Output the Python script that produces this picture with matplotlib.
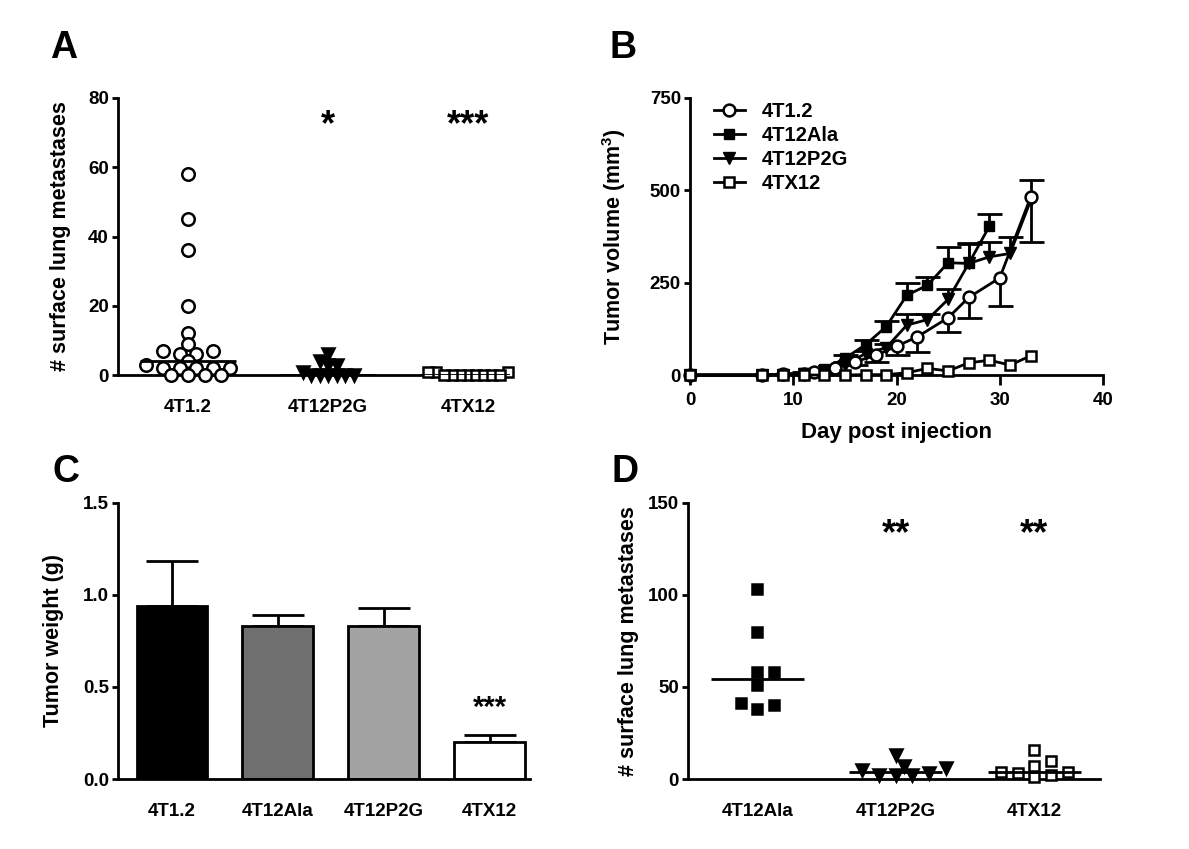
import numpy as np
import matplotlib.pyplot as plt

plt.rcParams['font.family'] = ['Liberation Sans', 'DejaVu Sans']
plt.rcParams['font.weight'] = 'bold'
plt.rcParams['axes.labelweight'] = 'bold'
plt.rcParams['mathtext.fontset'] = 'custom'
plt.rcParams['mathtext.rm'] = 'Liberation Sans:bold'
plt.rcParams['mathtext.bf'] = 'Liberation Sans:bold'

# A: lung metastases, 3 lines
a_groups = ['4T1.2', '4T12P2G', '4TX12']
a_4t12 = [58, 45, 36, 20, 12, 9, 7, 7, 6, 6, 4, 3, 2, 2, 2, 2, 2, 0, 0, 0, 0]
a_p2g = [6, 4, 3, 3, 1, 0, 0, 0, 0, 0, 0]
a_tx12 = [1, 1, 1, 0, 0, 0, 0, 0, 0, 0, 0]
a_stars = ['', '*', '***']

# B: tumour growth
b_days_4t12 = [0, 7, 9, 11, 12, 14, 16, 18, 20, 22, 25, 27, 30, 33]
b_vol_4t12 = [0, 0, 2, 4, 8, 18, 36, 53, 78, 103, 155, 210, 263, 482]
b_err_4t12 = [0, 0, 1, 2, 3, 6, 10, 17, 24, 40, 38, 55, 77, 122]   # shown below

b_days_ala = [0, 7, 9, 11, 13, 15, 17, 19, 21, 23, 25, 27, 29]
b_vol_ala = [0, 0, 2, 6, 16, 45, 82, 131, 216, 243, 304, 302, 403]
b_err_ala = [0, 0, 1, 2, 4, 8, 12, 15, 34, 21, 43, 54, 32]        # shown above

b_days_p2g = [0, 7, 9, 11, 13, 15, 17, 19, 21, 23, 25, 27, 29, 31, 33]
b_vol_p2g = [0, 0, 1, 3, 10, 28, 58, 74, 135, 150, 205, 302, 320, 329, 473]
b_err_p2g = [0, 0, 1, 1, 3, 6, 8, 10, 30, 15, 27, 56, 40, 45, 54]  # shown above

b_days_tx12 = [0, 7, 9, 11, 13, 15, 17, 19, 21, 23, 25, 27, 29, 31, 33]
b_vol_tx12 = [0, 0, 0, 0, 0, 0, 1, 1, 6, 18, 11, 33, 40, 27, 52]

# C: tumour weight
c_groups = ['4T1.2', '4T12Ala', '4T12P2G', '4TX12']
c_weight = [0.94, 0.83, 0.83, 0.20]
c_err = [0.245, 0.06, 0.10, 0.04]
c_colors = ['#000000', '#6f6f6f', '#a3a3a3', '#ffffff']

# D: lung metastases, 3 other lines
d_groups = ['4T12Ala', '4T12P2G', '4TX12']
d_ala = [103, 80, 58, 58, 51, 41, 40, 38]
d_p2g = [13, 7, 6, 5, 3, 2, 2, 2]
d_tx12 = [16, 10, 7, 4, 4, 3, 2, 1]
d_stars = ['', '**', '**']


def swarm(vals, dx_px, dy_px, ppu_x, ppu_y):
    # simple beeswarm: offsets in category units
    vals = np.asarray(vals, float)
    offs = np.zeros(len(vals))
    placed = []
    step = dx_px / 4
    for i in np.argsort(vals, kind='stable'):
        y = vals[i] * ppu_y
        k = 0
        pos = None
        while pos is None:
            for c in ([0.0] if k == 0 else [k * step, -k * step]):
                if all(((c - px) / dx_px) ** 2 + ((y - py) / dy_px) ** 2 >= 0.98
                       for px, py in placed):
                    pos = c
                    break
            k += 1
        placed.append((pos, y))
        offs[i] = pos / ppu_x
    return offs


def style_axes(ax):
    for s in ['top', 'right']:
        ax.spines[s].set_visible(False)
    for s in ['left', 'bottom']:
        ax.spines[s].set_linewidth(2)
    ax.tick_params(axis='y', direction='out', length=4.5, width=2, labelsize=13.5, pad=2)
    ax.tick_params(axis='x', labelsize=13.5)


fig = plt.figure(figsize=(11.89, 8.49), dpi=100)
W, H = 1189, 849


def add_ax(l, r, t, b):
    return fig.add_axes([l / W, 1 - b / H, (r - l) / W, (b - t) / H])


axA = add_ax(118, 510, 98, 375)
axB = add_ax(690, 1103, 98, 375)
axC = add_ax(118, 530, 502.7, 779)
axD = add_ax(688, 1100, 502.7, 779)

# ---- A ----
style_axes(axA)
axA.set_xlim(-0.5, 2.3)
axA.set_ylim(0, 80)
axA.set_yticks([0, 20, 40, 60, 80])
ppx = 392 / 2.8
ppy = 277 / 80
a_sets = [
    (a_4t12, 'o', 'white', 9, 16.7, 8),
    (a_p2g, 'v', 'black', 8, 8.5, 9),
    (a_tx12, 's', 'white', 7.5, 8, 8),
]
for i, (vals, mk, fc, ms, dx, dy) in enumerate(a_sets):
    off = swarm(vals, dx, dy, ppx, ppy)
    axA.plot(i + off, vals, linestyle='none', marker=mk, ms=ms, mfc=fc, mec='black',
             mew=1.8, clip_on=False, zorder=3)
    axA.hlines(np.median(vals), i - 0.34, i + 0.34, color='black', lw=2, zorder=4)
    axA.text(i, 69.2, a_stars[i], ha='center', va='baseline', fontsize=26, fontweight='bold')
axA.set_xticks(range(3))
axA.set_xticklabels(a_groups)
axA.tick_params(axis='x', length=0, pad=17)
axA.set_ylabel('# surface lung metastases', fontsize=15.5)
axA.yaxis.set_label_coords(-0.12, 0.5)

# ---- B ----
style_axes(axB)
axB.set_xlim(0, 40)
axB.set_ylim(0, 750)
axB.set_xticks([0, 10, 20, 30, 40])
axB.set_yticks([0, 250, 500, 750])
axB.tick_params(axis='x', direction='out', length=7, width=2, labelsize=13.5, pad=5)


def one_sided(ax, x, y, err, up):
    err = np.asarray(err, float)
    z = np.zeros_like(err)
    eb = ax.errorbar(x, y, yerr=[z, err] if up else [err, z], fmt='none', ecolor='black',
                     elinewidth=2, capsize=9, capthick=2, zorder=2)
    # hide the cap that would sit on the data point
    eb[1][0 if up else 1].set_visible(False)


one_sided(axB, b_days_4t12, b_vol_4t12, b_err_4t12, False)
one_sided(axB, b_days_ala, b_vol_ala, b_err_ala, True)
one_sided(axB, b_days_p2g, b_vol_p2g, b_err_p2g, True)

axB.plot(b_days_4t12, b_vol_4t12, '-o', color='black', mfc='white', mec='black', ms=8.5,
         mew=1.8, lw=2, label='4T1.2', clip_on=False, zorder=4)
axB.plot(b_days_ala, b_vol_ala, '-s', color='black', mfc='black', ms=7.5,
         lw=2, label='4T12Ala', clip_on=False, zorder=3)
axB.plot(b_days_p2g, b_vol_p2g, '-v', color='black', mfc='black', ms=8,
         lw=2, label='4T12P2G', clip_on=False, zorder=3)
axB.plot(b_days_tx12, b_vol_tx12, '-s', color='black', mfc='white', mec='black', ms=7.5,
         mew=1.8, lw=2, label='4TX12', clip_on=False, zorder=5)
leg = axB.legend(loc='upper left', bbox_to_anchor=(0.015, 1.05), frameon=False, fontsize=14.5,
                 handlelength=1.5, handletextpad=0.85, labelspacing=0.25)
axB.set_xlabel('Day post injection', fontsize=16)
axB.xaxis.set_label_coords(0.5, -0.17)
axB.set_ylabel(r'Tumor volume (mm$^3$)', fontsize=15.5)
axB.yaxis.set_label_coords(-0.15, 0.5)

# ---- C ----
style_axes(axC)
axC.set_xlim(-0.51, 3.38)
axC.set_ylim(0, 1.5)
axC.set_yticks([0, 0.5, 1.0, 1.5])
axC.set_yticklabels(['0.0', '0.5', '1.0', '1.5'])
xc = np.arange(len(c_groups))
axC.errorbar(xc, c_weight, yerr=[np.zeros(4), c_err], fmt='none', ecolor='black',
             elinewidth=2, capsize=19, capthick=2, zorder=1)
axC.bar(xc, c_weight, width=0.67, color=c_colors, edgecolor='black', linewidth=2, zorder=2)
axC.text(3, 0.345, '***', ha='center', va='baseline', fontsize=21, fontweight='bold')
axC.set_xticks(xc)
axC.set_xticklabels(c_groups)
axC.tick_params(axis='x', length=0, pad=17)
axC.set_ylabel('Tumor weight (g)', fontsize=15.5)
axC.yaxis.set_label_coords(-0.13, 0.5)

# ---- D ----
style_axes(axD)
axD.set_xlim(-0.5, 2.475)
axD.set_ylim(0, 150)
axD.set_yticks([0, 50, 100, 150])
ppx = 412 / 2.975
ppy = 276.3 / 150
d_sets = [
    (d_ala, 's', 'black', 7.5, 16.7, 10),
    (d_p2g, 'v', 'black', 8, 16.7, 10),
    (d_tx12, 's', 'white', 7.5, 16.7, 11),
]
for i, (vals, mk, fc, ms, dx, dy) in enumerate(d_sets):
    off = swarm(vals, dx, dy, ppx, ppy)
    axD.plot(i + off, vals, linestyle='none', marker=mk, ms=ms, mfc=fc, mec='black',
             mew=1.8, clip_on=False, zorder=3)
    axD.hlines(np.median(vals), i - 0.336, i + 0.336, color='black', lw=2, zorder=4)
    axD.text(i, 127.7, d_stars[i], ha='center', va='baseline', fontsize=26, fontweight='bold')
axD.set_xticks(range(3))
axD.set_xticklabels(d_groups)
axD.tick_params(axis='x', length=0, pad=17)
axD.set_ylabel('# surface lung metastases', fontsize=15.5)
axD.yaxis.set_label_coords(-0.12, 0.5)

# panel letters
for letter, x, y in [('A', 50, 58), ('B', 610, 58), ('C', 52, 482), ('D', 612, 482)]:
    fig.text(x / W, 1 - y / H, letter, fontsize=27, fontweight='bold', ha='left', va='baseline')

fig.savefig('out.png', dpi=100)
